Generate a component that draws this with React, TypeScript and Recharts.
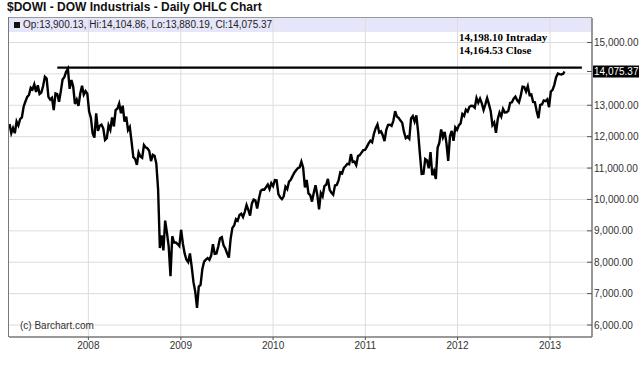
import React from "react";
import {
  LineChart,
  Line,
  XAxis,
  YAxis,
  CartesianGrid,
  ReferenceLine,
} from "recharts";

// weekly closes (Fridays); first week ends 2007-02-23
const firstWeek = "2007-02-23";
const closes2007 = [
  12400, 12114, 12276, 12110, 12481, 12354, 12560, 12612, 12961, 13120,
  13264, 13326, 13556, 13507, 13668, 13424, 13639, 13360, 13408, 13611,
  13907, 13851, 13265, 13182, 13239, 12845, 13379, 13358, 13113, 13442,
  13820, 13896, 14066, 14164, 13522, 13807, 13595, 13042, 13177, 12980,
  13372, 13625, 13340, 13450, 13366,
];
const closes2008 = [
  12800, 12606, 12099, 11970, 12743, 12183, 12348, 12381, 12266, 11894,
  11951, 12361, 12216, 12610, 12325, 12849, 12892, 13058, 12745, 12986,
  12480, 12638, 12209, 12307, 11843, 11346, 11288, 11100, 11497, 11370,
  11326, 11734, 11659, 11628, 11543, 11220, 11421, 11388, 11143, 10325,
  8451, 8852, 8378, 9325, 8943, 8497, 7552, 8829, 8635, 8629,
  8579, 8515,
];
const closes2009 = [
  9034, 8599, 8281, 8077, 8001, 8280, 7850, 7366, 7063, 6547,
  7224, 7279, 7776, 8018, 8083, 8131, 8076, 8212, 8575, 8268,
  8277, 8500, 8764, 8799, 8539, 8438, 8280, 8146, 8743, 9093,
  9171, 9370, 9321, 9505, 9544, 9441, 9605, 9820, 9665, 9487,
  9865, 9995, 9972, 9712, 10023, 10270, 10318, 10310, 10388, 10471,
  10328, 10520,
];
const closes2010 = [
  10428, 10618, 10610, 10172, 10067, 10012, 10099, 10402, 10325, 10566,
  10625, 10742, 10851, 10927, 10997, 11019, 11204, 11009, 10380, 10620,
  10193, 10137, 9931, 10212, 10450, 10144, 9686, 10198, 10097, 10424,
  10466, 10654, 10303, 10214, 10150, 10448, 10462, 10607, 10860, 10829,
  11006, 11063, 11133, 11118, 11445, 11193, 11204, 11092, 11382, 11410,
  11492, 11573, 11578,
];
const closes2011 = [
  11675, 11787, 11871, 11824, 12092, 12273, 12391, 12130, 12169, 12044,
  11859, 12221, 12376, 12380, 12342, 12505, 12811, 12638, 12596, 12512,
  12441, 12151, 11952, 12004, 11934, 12582, 12657, 12480, 12681, 12143,
  11444, 10810, 10817, 11285, 11240, 10992, 11509, 10771, 10913, 10655,
  11644, 11808, 12231, 11983, 12153, 11796, 11231, 12019, 12184, 11867,
  12294, 12218,
];
const closes2012 = [
  12360, 12422, 12720, 12660, 12862, 12801, 12950, 12983, 12978, 12922,
  13233, 13081, 13212, 13060, 12850, 13029, 13228, 13038, 12820, 12369,
  12454, 12119, 12554, 12767, 12640, 12880, 12772, 12777, 12822, 13075,
  13096, 13207, 13275, 13157, 13090, 13306, 13593, 13579, 13437, 13610,
  13328, 13343, 13107, 13093, 12815, 12588, 13010, 13026, 13155, 13135,
  13190, 12938,
];
const closes2013 = [13435, 13488, 13650, 13896, 14010, 13993, 13981, 14000];
const lastBarDate = "2013-02-27";
const lastOhlc = [13900.13, 14104.86, 13880.19, 14075.37];

const recordHigh = [14198.1, 14164.53]; // intraday, close
const recordSpan = ["2007-08-31", "2013-05-07"];
const yearTicks = [2008, 2009, 2010, 2011, 2012, 2013];
const priceTicks = [6000, 7000, 8000, 9000, 10000, 11000, 12000, 13000, 14000, 15000];
const xRange = ["2007-02-21", "2013-06-16"];
const yRange = [5618, 15780];

const DAY = 86400000;
const t0 = Date.parse(firstWeek);
const weekly = [
  ...closes2007,
  ...closes2008,
  ...closes2009,
  ...closes2010,
  ...closes2011,
  ...closes2012,
  ...closes2013,
];
const data = weekly.map((c, i) => ({ t: t0 + i * 7 * DAY, close: c }));
data.push({ t: Date.parse(lastBarDate), close: lastOhlc[3] });

const fmt = (v: number) =>
  v.toLocaleString("en-US", { minimumFractionDigits: 2, maximumFractionDigits: 2 });

const font = "'Liberation Sans', Arial, sans-serif";

const PriceTick = (props: any) => {
  const { x, y, payload } = props;
  const last = payload.value === lastOhlc[3];
  return (
    <g>
      <line x1={x - 5} x2={x} y1={y} y2={y} stroke="#555" />
      {last && <rect x={x + 1} y={y - 6} width={46} height={12} fill="#000" />}
      <text
        x={x + 2}
        y={y}
        dy="0.35em"
        fontSize={10}
        fontFamily={font}
        fill={last ? "#fff" : "#333"}
      >
        {fmt(payload.value)}
      </text>
    </g>
  );
};

export default function App() {
  const lbl: React.CSSProperties = { position: "absolute", whiteSpace: "nowrap", zIndex: 2 };
  return (
    <div
      style={{
        position: "absolute",
        left: 0,
        top: 0,
        width: 640,
        height: 375,
        background: "#fff",
        fontFamily: font,
      }}
    >
      <div
        style={{
          position: "absolute",
          left: 9,
          top: 17,
          width: 583,
          height: 14,
          background: "#e6e6fa",
          borderTop: "1px solid #999",
        }}
      />
      <div style={{ position: "absolute", left: 8, top: 17, width: 0, height: 320, borderLeft: "1.5px solid #777", zIndex: 2 }} />
      <div style={{ ...lbl, left: 7, top: 0, fontSize: 12, fontWeight: "bold", color: "#111" }}>
        $DOWI - DOW Industrials - Daily OHLC Chart
      </div>
      <div style={{ ...lbl, left: 14, top: 19, fontSize: 10, color: "#222", display: "flex", alignItems: "center" }}>
        <span style={{ display: "inline-block", width: 6, height: 6, background: "#111", marginRight: 3 }} />
        Op:{fmt(lastOhlc[0])}, Hi:{fmt(lastOhlc[1])}, Lo:{fmt(lastOhlc[2])}, Cl:{fmt(lastOhlc[3])}
      </div>
      <div
        style={{
          ...lbl,
          left: 459,
          top: 31,
          fontSize: 11,
          lineHeight: "13px",
          fontWeight: "bold",
          fontFamily: "'Liberation Serif', 'Times New Roman', serif",
          color: "#000",
        }}
      >
        {fmt(recordHigh[0])} Intraday
        <br />
        {fmt(recordHigh[1])} Close
      </div>
      <div style={{ ...lbl, left: 20, top: 320, fontSize: 10, color: "#333" }}>(c) Barchart.com</div>
      <div style={{ position: "absolute", left: 0, top: 0, zIndex: 1 }}>
        <LineChart
          width={640}
          height={375}
          data={data}
          margin={{ top: 18, right: 0, bottom: 18, left: 9 }}
        >
          <CartesianGrid
            yAxisId="r"
            stroke="#dcdcdc"
            horizontalValues={priceTicks}
            verticalValues={yearTicks.map((y) => Date.UTC(y, 0, 1))}
          />
          <XAxis
            dataKey="t"
            type="number"
            scale="time"
            domain={[Date.parse(xRange[0]), Date.parse(xRange[1])]}
            ticks={yearTicks.map((y) => Date.UTC(y, 0, 1))}
            tickFormatter={(v: number) => String(new Date(v).getUTCFullYear())}
            height={20}
            tickSize={3}
            tickMargin={2}
            axisLine={{ stroke: "#777", strokeWidth: 1.5 }}
            tickLine={{ stroke: "#555" }}
            tick={{ fontSize: 10, fill: "#333", fontFamily: font }}
            allowDataOverflow
          />
          <YAxis
            yAxisId="r"
            orientation="right"
            width={48}
            domain={yRange}
            ticks={[6000, 7000, 8000, 9000, 10000, 11000, 12000, 13000, lastOhlc[3], 15000]}
            tickLine={false}
            tickSize={0}
            tickMargin={0}
            axisLine={{ stroke: "#777", strokeWidth: 1.5 }}
            tick={<PriceTick />}
            allowDataOverflow
            interval={0}
          />
          <ReferenceLine
            yAxisId="r"
            segment={[
              { x: Date.parse(recordSpan[0]), y: recordHigh[0] },
              { x: Date.parse(recordSpan[1]), y: recordHigh[0] },
            ]}
            stroke="#000"
            strokeWidth={2.2}
          />
          <Line
            yAxisId="r"
            type="linear"
            dataKey="close"
            stroke="#000"
            strokeWidth={2.4}
            dot={false}
            isAnimationActive={false}
          />
        </LineChart>
      </div>
    </div>
  );
}
